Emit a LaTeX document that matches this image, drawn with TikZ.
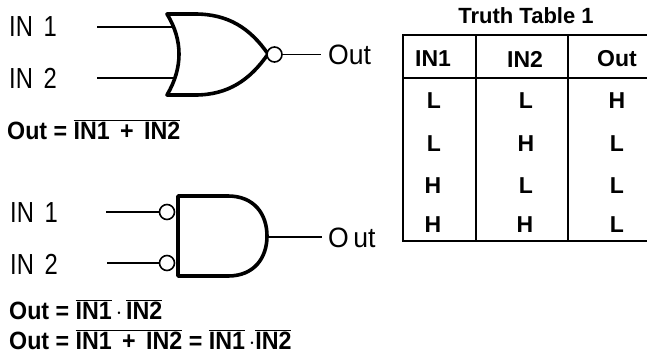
\documentclass[tikz,border=0pt]{standalone}
\usepackage{fontspec}
\setmainfont{Liberation Sans}
\newcommand{\olin}[1]{\vbox{\hrule height 1.1pt\kern 1.4pt\hbox{#1}}}
\tikzset{
  gate/.style={line width=3.6pt,line join=round},
  wire/.style={line width=1.4pt},
  bubble/.style={circle,draw,line width=1.6pt,minimum size=15pt,inner sep=0pt,fill=white},
  inlab/.style={inner sep=0pt,anchor=west,font=\fontsize{29}{29}\selectfont,xscale=0.82},
  outlab/.style={inner sep=0pt,anchor=west,font=\fontsize{28}{28}\selectfont,xscale=0.95},
  eqn/.style={inner sep=0pt,anchor=west,font=\fontsize{25}{25}\selectfont\bfseries,xscale=0.93},
  cell/.style={inner sep=0pt,font=\fontsize{23}{23}\selectfont\bfseries},
  grid/.style={line width=1.6pt},
}
\begin{document}
\begin{tikzpicture}[x=1pt,y=-1pt]
\useasboundingbox (0,0) rectangle (647,357);
% NOR gate
\node[inlab] (a1) at (9,27) {IN\ \,1};
\node[inlab] (a2) at (9,78) {IN\ \,2};
\coordinate (a1s) at (97,27); \coordinate (a1e) at (174,27);
\coordinate (a2s) at (97,78); \coordinate (a2e) at (174,78);
\draw[wire] (a1s) -- (a1e);
\draw[wire] (a2s) -- (a2e);
\coordinate (ntl) at (167,14); \coordinate (nbl) at (167,95); \coordinate (ntip) at (268,54);
\draw[gate,fill=white] (ntl) .. controls (183,40) and (183,68) .. (nbl)
  -- (195,95) .. controls (228,95) and (250,80) .. (ntip)
  .. controls (250,28) and (228,14) .. (195,14) -- cycle;
\node[bubble] (nb) at (274.5,54.5) {};
\coordinate (nout) at (321,54.5);
\draw[wire] (nb) -- (nout);
\node[outlab] (nol) at (328,54.5) {Out};
\node[eqn] (eq1) at (7,130) {Out = \olin{IN1\ \,+\ \,IN2}};
% AND gate
\node[inlab] (b1) at (10,213) {IN\ \,1};
\node[inlab] (b2) at (10,264) {IN\ \,2};
\draw[gate] (178,196) -- (178,276) -- (228,276) .. controls (254,276) and (267,258) .. (267,236)
  .. controls (267,214) and (254,196) .. (228,196) -- cycle;
\node[bubble] (c1) at (167,212) {};
\node[bubble] (c2) at (167,263) {};
\coordinate (c1s) at (106,212); \coordinate (c2s) at (107,263);
\draw[wire] (c1s) -- (c1);
\draw[wire] (c2s) -- (c2);
\coordinate (aout) at (267,237); \coordinate (aoute) at (322,237);
\draw[wire] (aout) -- (aoute);
\node[outlab] (aol) at (328,238) {O\,ut};
\node[eqn] (eq2) at (9,310) {Out = \olin{IN1}\,$\cdot$\,\olin{IN2}};
\node[eqn] (eq3) at (9,340) {Out = \olin{IN1\ \,+\ \,IN2} = \olin{IN1}\,$\cdot$\olin{IN2}};
% Table
\node[cell,font=\fontsize{22}{22}\selectfont\bfseries] (tt) at (526,16) {Truth Table 1};
\draw[grid] (647,35) -- (403,35) -- (403,241) -- (647,241);
\draw[grid] (403,78) -- (647,78);
\draw[grid] (476,35) -- (476,241);
\draw[grid] (568,35) -- (568,241);
\foreach \n/\x/\y/\t in {h1/433/59/IN1,h2/525/59/IN2,h3/617/59/Out,
  r1/434/101/L,s1/526/101/L,t1/617/101/H,
  r2/434/144/L,s2/526/144/H,t2/617/144/L,
  r3/433/186/H,s3/526/186/L,t3/617/186/L,
  r4/433/225/H,s4/525/225/H,t4/617/225/L}
  \node[cell] (\n) at (\x,\y) {\t};
\end{tikzpicture}
\end{document}
